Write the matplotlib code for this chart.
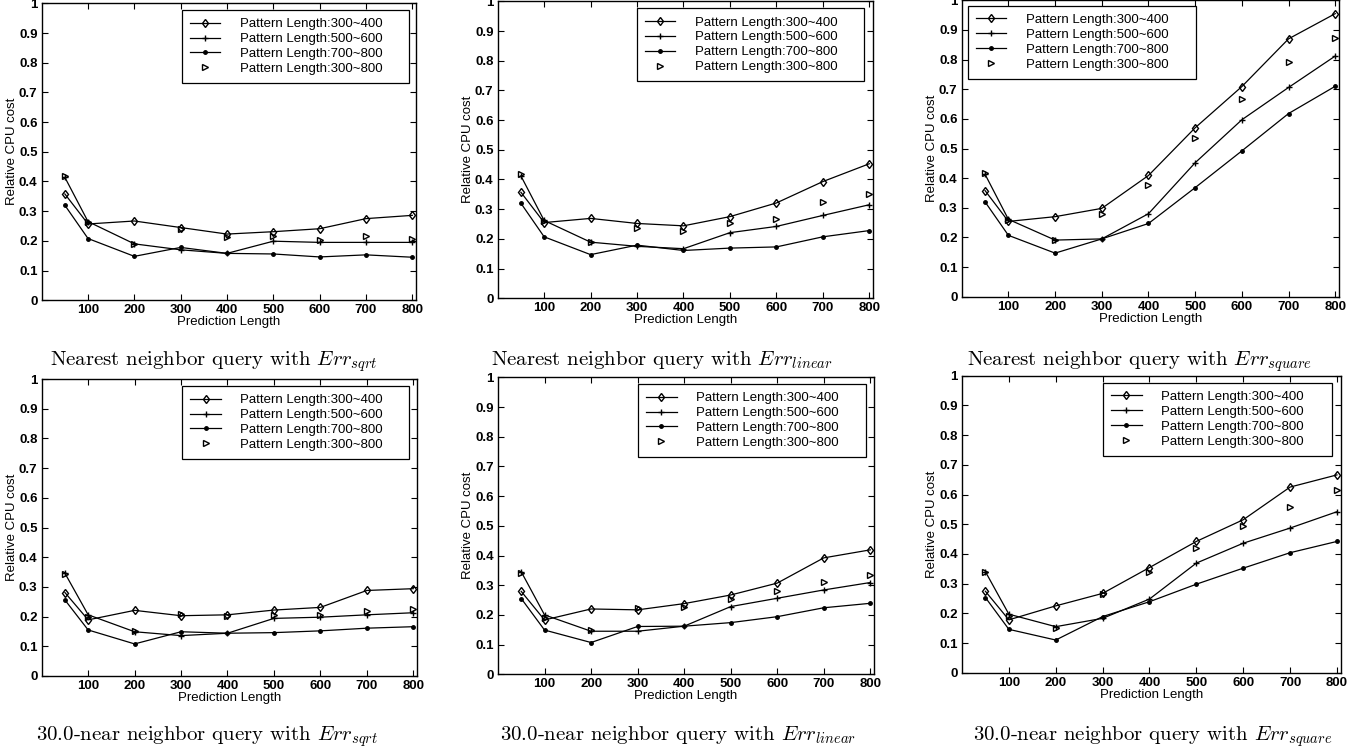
import matplotlib
matplotlib.use("Agg")
import matplotlib.pyplot as plt

plt.rcParams['font.family'] = ['Liberation Sans', 'DejaVu Sans']
plt.rcParams['mathtext.fontset'] = 'cm'

x = [50, 100, 200, 300, 400, 500, 600, 700, 800]
labels = ["Pattern Length:300~400", "Pattern Length:500~600",
          "Pattern Length:700~800", "Pattern Length:300~800"]

# nearest neighbor, Err_sqrt
nn_sqrt = [
    [0.358, 0.257, 0.267, 0.245, 0.223, 0.231, 0.241, 0.275, 0.286],
    [0.414, 0.265, 0.190, 0.170, 0.158, 0.199, 0.195, 0.195, 0.195],
    [0.320, 0.208, 0.148, 0.178, 0.158, 0.156, 0.146, 0.153, 0.145],
    [0.418, 0.262, 0.190, 0.239, 0.212, 0.217, 0.203, 0.218, 0.205],
]
# nearest neighbor, Err_linear
nn_linear = [
    [0.357, 0.255, 0.269, 0.252, 0.244, 0.275, 0.321, 0.393, 0.453],
    [0.412, 0.262, 0.189, 0.175, 0.167, 0.221, 0.242, 0.279, 0.315],
    [0.320, 0.207, 0.147, 0.179, 0.161, 0.169, 0.173, 0.207, 0.228],
    [0.418, 0.260, 0.190, 0.237, 0.228, 0.253, 0.266, 0.325, 0.351],
]
# nearest neighbor, Err_square
nn_square = [
    [0.358, 0.254, 0.270, 0.298, 0.409, 0.570, 0.709, 0.870, 0.955],
    [0.413, 0.261, 0.191, 0.195, 0.280, 0.452, 0.597, 0.706, 0.812],
    [0.320, 0.207, 0.147, 0.195, 0.247, 0.368, 0.492, 0.618, 0.710],
    [0.416, 0.260, 0.190, 0.278, 0.377, 0.537, 0.667, 0.793, 0.872],
]
# 30.0-near neighbor, Err_sqrt
near_sqrt = [
    [0.281, 0.189, 0.221, 0.203, 0.206, 0.222, 0.231, 0.288, 0.294],
    [0.346, 0.206, 0.149, 0.136, 0.144, 0.194, 0.198, 0.206, 0.213],
    [0.256, 0.155, 0.108, 0.149, 0.144, 0.146, 0.152, 0.161, 0.166],
    [0.344, 0.200, 0.150, 0.208, 0.202, 0.206, 0.206, 0.219, 0.227],
]
# 30.0-near neighbor, Err_linear
near_linear = [
    [0.279, 0.183, 0.220, 0.217, 0.238, 0.267, 0.307, 0.392, 0.419],
    [0.345, 0.200, 0.145, 0.145, 0.162, 0.228, 0.256, 0.284, 0.309],
    [0.255, 0.149, 0.107, 0.161, 0.162, 0.174, 0.194, 0.224, 0.239],
    [0.340, 0.190, 0.150, 0.224, 0.228, 0.253, 0.279, 0.310, 0.335],
]
# 30.0-near neighbor, Err_square
near_square = [
    [0.274, 0.178, 0.225, 0.267, 0.354, 0.442, 0.515, 0.625, 0.666],
    [0.340, 0.197, 0.155, 0.183, 0.248, 0.369, 0.436, 0.487, 0.542],
    [0.253, 0.146, 0.110, 0.189, 0.239, 0.298, 0.352, 0.404, 0.442],
    [0.338, 0.190, 0.150, 0.265, 0.340, 0.421, 0.494, 0.558, 0.615],
]

panels = [nn_sqrt, nn_linear, nn_square, near_sqrt, near_linear, near_square]
captions = [
    r"Nearest neighbor query with $Err_{sqrt}$",
    r"Nearest neighbor query with $Err_{linear}$",
    r"Nearest neighbor query with $Err_{square}$",
    r"30.0-near neighbor query with $Err_{sqrt}$",
    r"30.0-near neighbor query with $Err_{linear}$",
    r"30.0-near neighbor query with $Err_{square}$",
]

W, H = 1372, 746
# axes boxes in pixels: left, top, right, bottom
boxes = [
    (41.7, 3.3, 416, 300.3),
    (497.7, 1.3, 873, 298.3),
    (961.7, 0.3, 1339, 296.7),
    (41.7, 379, 417, 676),
    (498, 377.3, 874, 674.3),
    (962, 375.7, 1340.7, 672.7),
]
legend_anchor = [(0.375, 0.977), (0.371, 0.976), (0.016, 0.981),
                 (0.375, 0.976), (0.373, 0.977), (0.373, 0.976)]
# caption centre x and baseline y, in pixels
caption_pos = [(214, 365), (662, 365), (1140, 365),
               (207, 740), (678, 740), (1153, 740)]

styles = [
    dict(marker='d', mfc='none', mec='black', ms=4.5, ls='-'),
    dict(marker='+', mec='black', ms=5, ls='-'),
    dict(marker='.', mfc='black', mec='black', ms=5, ls='-'),
    dict(marker='>', mfc='none', mec='black', ms=4, ls='none'),
]

fig = plt.figure(figsize=(W / 100, H / 100), dpi=100)

for i, data in enumerate(panels):
    l, t, r, b = boxes[i]
    ax = fig.add_axes([l / W, 1 - b / H, (r - l) / W, (b - t) / H])
    for k in range(4):
        ax.plot(x, data[k], color='black', lw=0.9, label=labels[k], **styles[k])
    ax.set_xlim(0, 808)
    ax.set_ylim(0, 1)
    ax.set_xticks([100, 200, 300, 400, 500, 600, 700, 800])
    ax.set_yticks([0, 0.1, 0.2, 0.3, 0.4, 0.5, 0.6, 0.7, 0.8, 0.9, 1])
    ax.set_yticklabels(["0", "0.1", "0.2", "0.3", "0.4", "0.5", "0.6",
                        "0.7", "0.8", "0.9", "1"])
    ax.tick_params(direction='in', top=True, right=True, length=4,
                   width=0.8, labelsize=9.5, pad=3)
    for lab in ax.get_xticklabels() + ax.get_yticklabels():
        lab.set_fontweight('bold')
    for sp in ax.spines.values():
        sp.set_linewidth(1.0)
    ax.set_xlabel("Prediction Length", fontsize=9.5, labelpad=0)
    ax.set_ylabel("Relative CPU cost", fontsize=9.5, labelpad=1)
    ax0, ay0 = legend_anchor[i]
    leg = ax.legend(loc='upper left', bbox_to_anchor=(ax0, ay0 - 0.26, 0.605, 0.26),
                    mode='expand', borderaxespad=0, fontsize=9.5,
                    handlelength=2.3, handletextpad=1.5, labelspacing=0.2,
                    borderpad=0.6, fancybox=False, framealpha=1)
    leg.get_frame().set_edgecolor('black')
    leg.get_frame().set_linewidth(0.9)
    cx, cy = caption_pos[i]
    fig.text(cx / W, 1 - cy / H, captions[i], ha='center', va='baseline',
             fontsize=15, family='cmr10')

fig.savefig("out.png", dpi=100)
